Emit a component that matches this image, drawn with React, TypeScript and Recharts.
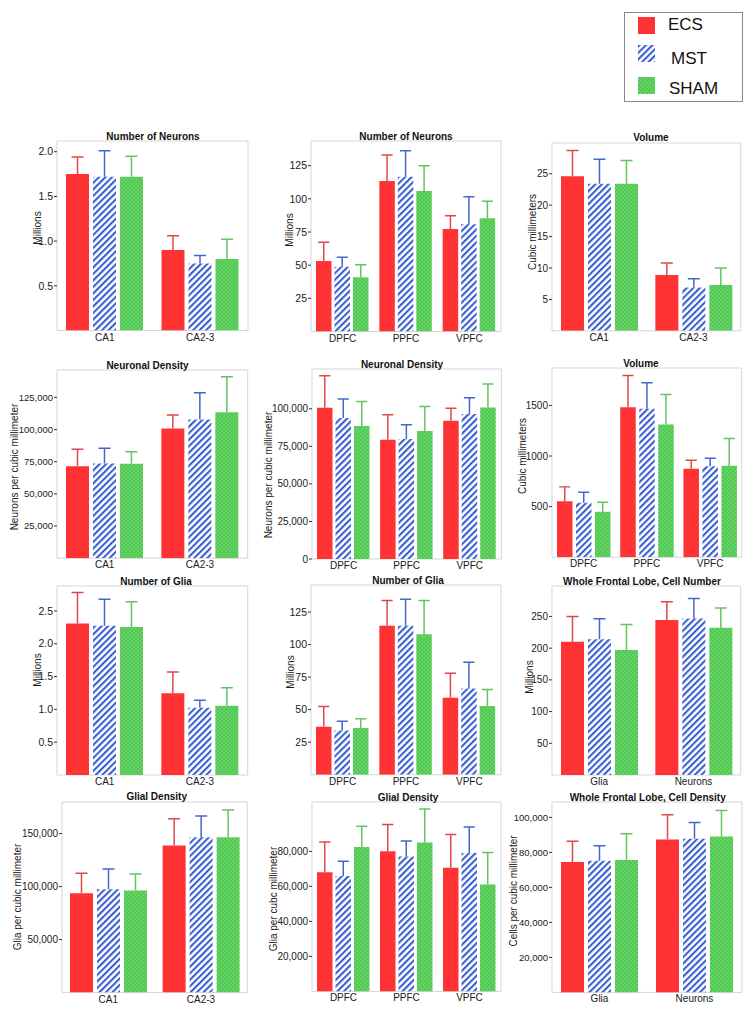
import React from "react";
import { BarChart, Bar, XAxis, YAxis, ReferenceArea } from "recharts";

const FONT = "'Liberation Sans', Arial, Helvetica, sans-serif";
const RED = "#ff3333";
const BLUE = "#3a5fcd";
const GREEN = "#52c952";
const RED_ERR = "#e04848";
const BLUE_ERR = "#4466cc";
const GREEN_ERR = "#62c462";

// categories
const hippo = ["CA1", "CA2-3"];
const pfc = ["DPFC", "PPFC", "VPFC"];
const lobe = ["Glia", "Neurons"];

// each row is a category, columns are ECS, MST, SHAM
const hipNeuronsMean = [[1.75, 1.72, 1.72], [0.9, 0.75, 0.8]];
const hipNeuronsTop = [[1.94, 2.01, 1.95], [1.06, 0.84, 1.02]];

const pfcNeuronsMean = [[53.1, 48.8, 40.8], [113.4, 116.7, 105.9], [77.2, 80.8, 85.3]];
const pfcNeuronsTop = [[67.2, 55.9, 50.4], [133.0, 136.3, 125.0], [87.3, 101.6, 98.1]];

const hipVolumeMean = [[24.6, 23.4, 23.4], [8.9, 6.9, 7.3]];
const hipVolumeTop = [[28.7, 27.3, 27.1], [10.8, 8.3, 10.0]];

const hipNeuDensMean = [[71400, 73700, 73400], [100900, 107900, 113400]];
const hipNeuDensTop = [[84600, 85400, 82800], [111300, 128600, 141000]];

const pfcNeuDensMean = [[100700, 93800, 88500], [79400, 79900, 85200], [92100, 96500, 100900]];
const pfcNeuDensTop = [[122000, 106500, 104900], [96100, 89400, 101600], [100300, 107400, 116500]];

const pfcVolumeMean = [[552, 537, 448], [1483, 1467, 1312], [873, 899, 903]];
const pfcVolumeTop = [[695, 642, 543], [1797, 1725, 1609], [958, 978, 1173]];

const hipGliaMean = [[2.31, 2.275, 2.255], [1.245, 1.026, 1.057]];
const hipGliaTop = [[2.78, 2.68, 2.64], [1.57, 1.14, 1.33]];

const pfcGliaMean = [[36.8, 34.0, 35.8], [114.4, 114.4, 107.9], [59.1, 66.2, 52.7]];
const pfcGliaTop = [[52.4, 41.1, 43.0], [133.8, 134.8, 133.8], [78.0, 86.4, 65.5]];

const lobeNumberMean = [[210, 214.2, 196.9], [244.2, 246.8, 232.1]];
const lobeNumberTop = [[250, 246.3, 237.3], [273.2, 278.4, 263.2]];

const hipGliaDensMean = [[93700, 97500, 96200], [138700, 146500, 146500]];
const hipGliaDensTop = [[112500, 116600, 111900], [164100, 166600, 172300]];

const pfcGliaDensMean = [[68000, 65900, 82500], [80000, 77100, 85100], [70700, 79000, 61000]];
const pfcGliaDensTop = [[85400, 74300, 94300], [95300, 85900, 104200], [89700, 93900, 79400]];

const lobeDensMean = [[74500, 75200, 75600], [87300, 87800, 89100]];
const lobeDensTop = [[86300, 83800, 90700], [101500, 97100, 104000]];

// tick labels
const ticksHipNeurons = [0.5, 1.0, 1.5, 2.0];
const ticksPfcCount = [25, 50, 75, 100, 125];
const ticksHipVolume = [5, 10, 15, 20, 25];
const ticksHipNeuDens = [25000, 50000, 75000, 100000, 125000];
const ticksPfcNeuDens = [0, 25000, 50000, 75000, 100000];
const ticksPfcVolume = [500, 1000, 1500];
const ticksHipGlia = [0.5, 1.0, 1.5, 2.0, 2.5];
const ticksLobeNumber = [50, 100, 150, 200, 250];
const ticksHipGliaDens = [50000, 100000, 150000];
const ticksPfcGliaDens = [20000, 40000, 60000, 80000];
const ticksLobeDens = [20000, 40000, 60000, 80000, 100000];

const dec = (v: number) => v.toFixed(1);
const int = (v: number) => String(v);
const thou = (v: number) => v.toLocaleString("en-US");

function buildRows(cats: string[], mean: number[][], top: number[][]) {
  return cats.map((name, i) => ({
    name,
    ecs: mean[i][0],
    ecsE: top[i][0] - mean[i][0],
    mst: mean[i][1],
    mstE: top[i][1] - mean[i][1],
    sham: mean[i][2],
    shamE: top[i][2] - mean[i][2],
  }));
}

const whisker = (color: string) => (props: any) => {
  const { x, y, width, height } = props;
  if (x == null || y == null || isNaN(y)) return <g />;
  const cx = x + width / 2;
  const cap = Math.min(12, width * 0.72);
  return (
    <g>
      <line x1={cx} x2={cx} y1={y + height} y2={y} stroke={color} strokeWidth={1.5} />
      <line x1={cx - cap / 2} x2={cx + cap / 2} y1={y} y2={y} stroke={color} strokeWidth={1.5} />
    </g>
  );
};

interface PanelProps {
  title: string;
  ylabel: string;
  cats: string[];
  mean: number[][];
  top: number[][];
  max: number;
  ticks: number[];
  fmt: (v: number) => string;
  L: number;
  R: number;
  T: number;
  B: number;
  barSize: number;
  barGap: number;
  tickFont?: number;
}

function Panel(p: PanelProps) {
  const data = buildRows(p.cats, p.mean, p.top);
  const width = p.R - p.L + 52;
  const height = p.B - p.T + 30;
  return (
    <div style={{ position: "absolute", left: p.L - 50, top: p.T - 10, width, height }}>
      <BarChart
        width={width}
        height={height}
        data={data}
        margin={{ top: 10, right: 2, left: 0, bottom: 0 }}
        barSize={p.barSize}
        barGap={p.barGap}
      >
        <XAxis
          dataKey="name"
          height={20}
          axisLine={false}
          tickLine={false}
          tickSize={0}
          tickMargin={3}
          interval={0}
          tick={{ fontSize: 10, fill: "#1a1a1a", fontFamily: FONT }}
        />
        <YAxis
          type="number"
          width={50}
          domain={[0, p.max]}
          allowDataOverflow
          ticks={p.ticks}
          tickFormatter={p.fmt}
          axisLine={false}
          tickSize={3}
          tickMargin={1}
          stroke="#333"
          tick={{ fontSize: p.tickFont ?? 10, fill: "#1a1a1a", fontFamily: FONT }}
        />
        <Bar dataKey="ecs" stackId="ecs" fill={RED} isAnimationActive={false} />
        <Bar dataKey="ecsE" stackId="ecs" shape={whisker(RED_ERR)} isAnimationActive={false} />
        <Bar dataKey="mst" stackId="mst" fill="url(#hatchBlue)" isAnimationActive={false} />
        <Bar dataKey="mstE" stackId="mst" shape={whisker(BLUE_ERR)} isAnimationActive={false} />
        <Bar dataKey="sham" stackId="sham" fill="url(#dotGreen)" isAnimationActive={false} />
        <Bar dataKey="shamE" stackId="sham" shape={whisker(GREEN_ERR)} isAnimationActive={false} />
        <ReferenceArea y1={0} y2={p.max} fill="none" stroke="#d6d6d6" strokeWidth={1} ifOverflow="visible" />
      </BarChart>
    </div>
  );
}

const panels: (PanelProps & { titleX: number; ylabX: number; ylabY: number })[] = [
  { title: "Number of Neurons", ylabel: "Millions", cats: hippo, mean: hipNeuronsMean, top: hipNeuronsTop, max: 2.12, ticks: ticksHipNeurons, fmt: dec, L: 57, R: 248, T: 141, B: 330.5, barSize: 23, barGap: 4, tickFont: 10.5, titleX: 153, ylabX: 37, ylabY: 228 },
  { title: "Number of Neurons", ylabel: "Millions", cats: pfc, mean: pfcNeuronsMean, top: pfcNeuronsTop, max: 143.6, ticks: ticksPfcCount, fmt: int, L: 311, R: 501, T: 141, B: 331.5, barSize: 15.5, barGap: 3, tickFont: 10.5, titleX: 406, ylabX: 289, ylabY: 230 },
  { title: "Volume", ylabel: "Cubic millimeters", cats: hippo, mean: hipVolumeMean, top: hipVolumeTop, max: 29.9, ticks: ticksHipVolume, fmt: int, L: 552.3, R: 741, T: 142.7, B: 330.5, barSize: 23, barGap: 4, titleX: 651, ylabX: 532, ylabY: 232 },
  { title: "Neuronal Density", ylabel: "Neurons per cubic millimeter", cats: hippo, mean: hipNeuDensMean, top: hipNeuDensTop, max: 146300, ticks: ticksHipNeuDens, fmt: thou, L: 57.3, R: 248, T: 370, B: 558.2, barSize: 23, barGap: 4, tickFont: 9.5, titleX: 147.5, ylabX: 14, ylabY: 467 },
  { title: "Neuronal Density", ylabel: "Neurons per cubic millimeter", cats: pfc, mean: pfcNeuDensMean, top: pfcNeuDensTop, max: 126500, ticks: ticksPfcNeuDens, fmt: thou, L: 311.7, R: 501, T: 369.3, B: 559.3, barSize: 15.5, barGap: 3, titleX: 402, ylabX: 268, ylabY: 475 },
  { title: "Volume", ylabel: "Cubic millimeters", cats: pfc, mean: pfcVolumeMean, top: pfcVolumeTop, max: 1870, ticks: ticksPfcVolume, fmt: int, L: 552.3, R: 742, T: 368.3, B: 557.5, barSize: 15.5, barGap: 3.5, titleX: 641, ylabX: 522, ylabY: 456 },
  { title: "Number of Glia", ylabel: "Millions", cats: hippo, mean: hipGliaMean, top: hipGliaTop, max: 2.88, ticks: ticksHipGlia, fmt: dec, L: 57.3, R: 248, T: 586, B: 775, barSize: 23, barGap: 4, tickFont: 10.5, titleX: 156, ylabX: 37, ylabY: 670 },
  { title: "Number of Glia", ylabel: "Millions", cats: pfc, mean: pfcGliaMean, top: pfcGliaTop, max: 145.8, ticks: ticksPfcCount, fmt: int, L: 311, R: 501, T: 585.3, B: 775, barSize: 15.5, barGap: 3, tickFont: 10.5, titleX: 408, ylabX: 290, ylabY: 672 },
  { title: "Whole Frontal Lobe, Cell Number", ylabel: "Millions", cats: lobe, mean: lobeNumberMean, top: lobeNumberTop, max: 298, ticks: ticksLobeNumber, fmt: int, L: 552.3, R: 741, T: 586, B: 775, barSize: 23, barGap: 4, titleX: 642, ylabX: 529, ylabY: 677 },
  { title: "Glial Density", ylabel: "Glia per cubic millimeter", cats: hippo, mean: hipGliaDensMean, top: hipGliaDensTop, max: 179800, ticks: ticksHipGliaDens, fmt: thou, L: 61.7, R: 247, T: 801.7, B: 992.3, barSize: 23, barGap: 4, titleX: 156.7, ylabX: 17, ylabY: 897 },
  { title: "Glial Density", ylabel: "Glia per cubc millimeter", cats: pfc, mean: pfcGliaDensMean, top: pfcGliaDensTop, max: 108200, ticks: ticksPfcGliaDens, fmt: thou, L: 311.7, R: 500.7, T: 802.3, B: 991.7, barSize: 15.5, barGap: 3, titleX: 408, ylabX: 273, ylabY: 899 },
  { title: "Whole Frontal Lobe, Cell Density", ylabel: "Cells per cubic millimeter", cats: lobe, mean: lobeDensMean, top: lobeDensTop, max: 108800, ticks: ticksLobeDens, fmt: thou, L: 551.7, R: 741.7, T: 802.3, B: 992.7, barSize: 23, barGap: 4, tickFont: 9.5, titleX: 647.7, ylabX: 513, ylabY: 891 },
];

const legendItems = [
  { label: "ECS", fill: RED, y: 17, tx: 668, ty: 30 },
  { label: "MST", fill: "url(#hatchBlue)", y: 45, tx: 671, ty: 64 },
  { label: "SHAM", fill: "url(#dotGreen)", y: 77, tx: 669, ty: 94 },
];

export default function App() {
  return (
    <div style={{ position: "absolute", left: 0, top: 0, width: 753, height: 1017, background: "#fff", fontFamily: FONT }}>
      <svg width={0} height={0} style={{ position: "absolute" }}>
        <defs>
          <pattern id="hatchBlue" patternUnits="userSpaceOnUse" width={4.6} height={4.6} patternTransform="rotate(45)">
            <rect width={4.6} height={4.6} fill="#fff" />
            <rect width={2.1} height={4.6} fill={BLUE} />
          </pattern>
          <pattern id="dotGreen" patternUnits="userSpaceOnUse" width={4} height={4}>
            <rect width={4} height={4} fill={GREEN} />
            <circle cx={1} cy={1} r={0.6} fill="#a8eba8" />
            <circle cx={3} cy={3} r={0.6} fill="#a8eba8" />
          </pattern>
        </defs>
      </svg>
      {panels.map((p, i) => (
        <Panel key={i} {...p} />
      ))}
      <svg width={753} height={1017} style={{ position: "absolute", left: 0, top: 0, pointerEvents: "none" }}>
        {panels.map((p, i) => (
          <g key={i}>
            <text x={p.titleX} y={p.T - 1.5} textAnchor="middle" fontSize={10} fontWeight="bold" fill="#111" fontFamily={FONT}>
              {p.title}
            </text>
            <text
              x={p.ylabX + 3.5}
              y={p.ylabY}
              textAnchor="middle"
              fontSize={10}
              fill="#1a1a1a"
              fontFamily={FONT}
              transform={`rotate(-90 ${p.ylabX + 3.5} ${p.ylabY})`}
            >
              {p.ylabel}
            </text>
          </g>
        ))}
        <rect x={624.5} y={12.5} width={118} height={89} fill="#fff" stroke="#8a8a8a" strokeWidth={1} />
        {legendItems.map((it) => (
          <g key={it.label}>
            <rect x={638} y={it.y} width={17} height={17} fill={it.fill} />
            <text x={it.tx} y={it.ty} fontSize={17} fill="#111" fontFamily={FONT}>
              {it.label}
            </text>
          </g>
        ))}
      </svg>
    </div>
  );
}
